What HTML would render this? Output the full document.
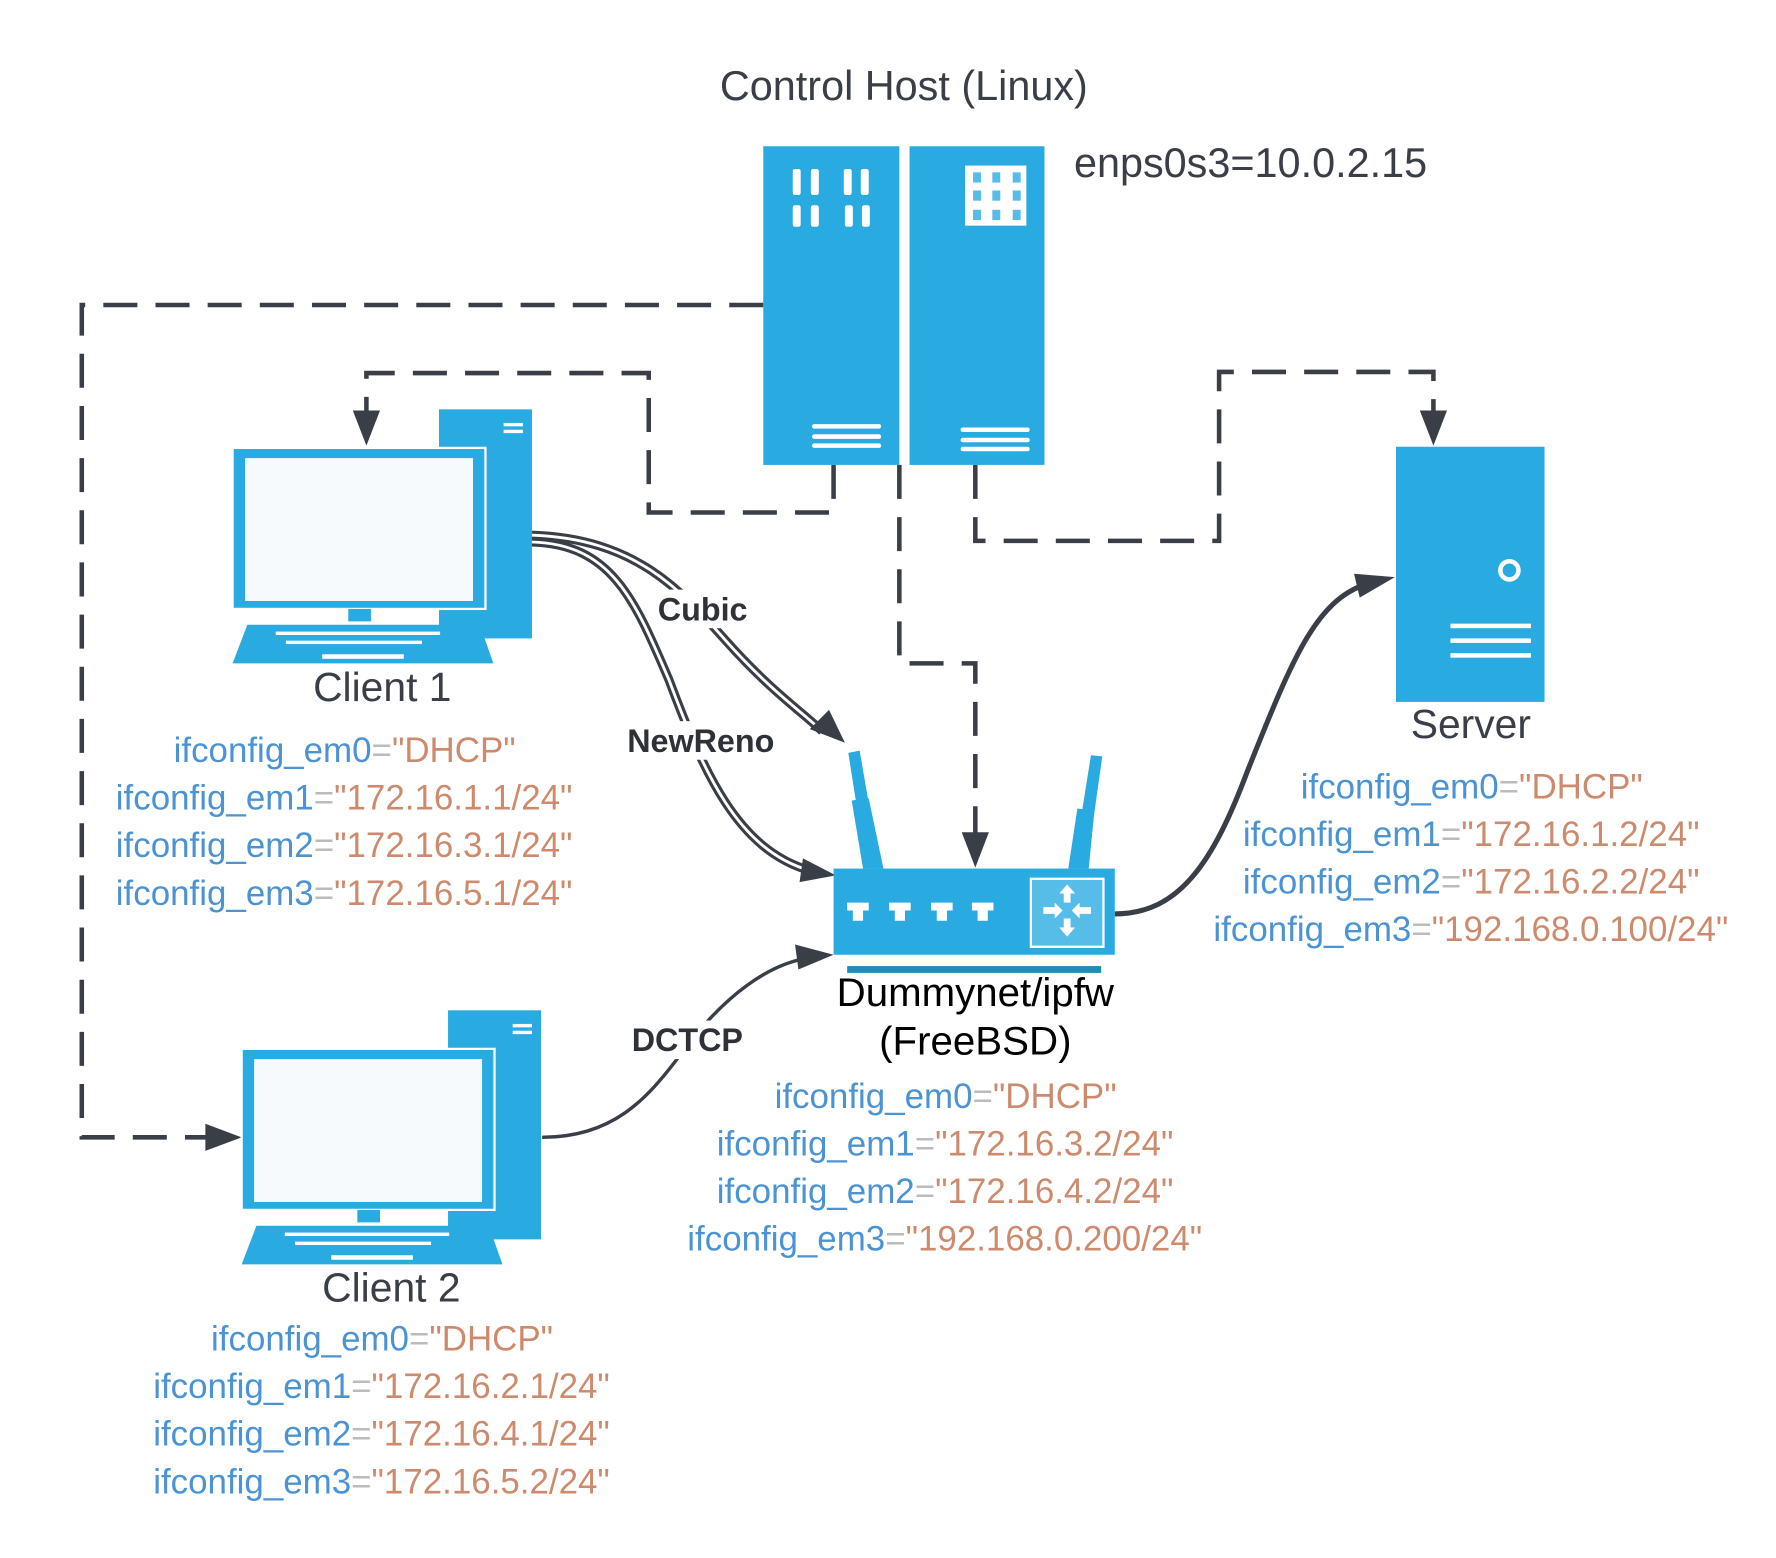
<!DOCTYPE html>
<html><head><meta charset="utf-8"><style>html,body{margin:0;padding:0;background:#fff}svg{display:block}</style></head>
<body>
<svg xmlns="http://www.w3.org/2000/svg" width="1776" height="1558" viewBox="0 0 1566 1374" font-family="Liberation Sans, sans-serif">
<rect width="1566" height="1374" fill="#fff"/>

<!-- dashed connectors -->
<g fill="none" stroke="#3a3f47" stroke-width="4" stroke-dasharray="30,16">
<path d="M673,269 H72 V1003 H190"/>
<path d="M735,410 V452 H572 V329 H323 V370"/>
<path d="M793,410 V585 H860 V742"/>
<path d="M860,410 V477 H1075 V328 H1264 V370"/>
</g>
<g fill="#3a3f47">
<path d="M213,1003 L181,991 L181,1015 z"/>
<path d="M323,393 L311,362 L335,362 z"/>
<path d="M860,765 L848,734 L872,734 z"/>
<path d="M1264,393 L1252,362 L1276,362 z"/>
</g>

<!-- control host -->
<rect x="673" y="129" width="120" height="281" fill="#29aae1"/>
<rect x="802" y="129" width="119" height="281" fill="#29aae1"/>
<g fill="#fff">
<rect x="699" y="149" width="7" height="23" rx="2"/><rect x="715" y="149" width="7" height="23" rx="2"/>
<rect x="744" y="149" width="7" height="23" rx="2"/><rect x="759" y="149" width="7" height="23" rx="2"/>
<rect x="699" y="181" width="7" height="19" rx="2"/><rect x="715" y="181" width="7" height="19" rx="2"/>
<rect x="745" y="181" width="7" height="19" rx="2"/><rect x="760" y="181" width="7" height="19" rx="2"/>
<rect x="716" y="374" width="61" height="4" rx="2"/><rect x="716" y="383" width="61" height="4" rx="2"/><rect x="716" y="391" width="61" height="4" rx="2"/>
<rect x="847" y="377" width="61" height="4" rx="2"/><rect x="847" y="386" width="61" height="4" rx="2"/><rect x="847" y="394" width="61" height="4" rx="2"/>
<rect x="851" y="146" width="54" height="53"/>
</g>
<g fill="#56bde8">
<rect x="858" y="152" width="7" height="9"/><rect x="875" y="152" width="7" height="9"/><rect x="893" y="152" width="7" height="9"/>
<rect x="858" y="168" width="7" height="9"/><rect x="875" y="168" width="7" height="9"/><rect x="893" y="168" width="7" height="9"/>
<rect x="858" y="185" width="7" height="9"/><rect x="875" y="185" width="7" height="9"/><rect x="893" y="185" width="7" height="9"/>
</g>
<text x="797" y="88" font-size="36.5" fill="#3a3f47" text-anchor="middle">Control Host (Linux)</text>
<text x="947" y="156" font-size="36.5" fill="#3a3f47">enps0s3=10.0.2.15</text>

<!-- clients -->
<g id="cl">
<rect x="387" y="361" width="82" height="202" fill="#29aae1"/>
<rect x="444" y="373" width="17" height="3" fill="#fff"/><rect x="444" y="379" width="17" height="3" fill="#fff"/>
<rect x="205" y="395" width="223" height="142" fill="#29aae1" stroke="#fff" stroke-width="2"/>
<rect x="216" y="404" width="201" height="126" fill="#f7fafc"/>
<rect x="307" y="537" width="20" height="11" fill="#29aae1"/>
<path d="M218,551 H423 L435,585 H205 z" fill="#29aae1"/>
<g fill="#fff">
<rect x="243" y="557" width="145" height="3"/><rect x="252" y="565" width="120" height="3"/>
<rect x="284" y="577" width="72" height="4"/>
</g>
</g>
<use href="#cl" transform="translate(8,530)"/>
<text x="337" y="618" font-size="36" fill="#3a3f47" text-anchor="middle">Client 1</text>
<text x="345" y="1148" font-size="36" fill="#3a3f47" text-anchor="middle">Client 2</text>

<!-- server -->
<rect x="1231" y="394" width="131" height="225" fill="#29aae1"/>
<circle cx="1331" cy="503" r="8" fill="none" stroke="#fff" stroke-width="4"/>
<rect x="1279" y="550" width="71" height="4" fill="#fff"/><rect x="1279" y="563" width="71" height="4" fill="#fff"/><rect x="1279" y="576" width="71" height="4" fill="#fff"/>
<text x="1297" y="651" font-size="36" fill="#3a3f47" text-anchor="middle">Server</text>

<!-- solid connectors -->
<g fill="none">
<path d="M469,472 C560,475 600,520 640,565 C680,610 710,630 725,645" stroke="#3a3f47" stroke-width="8"/>
<path d="M469,472 C560,475 600,520 640,565 C680,610 710,630 725,645" stroke="#fff" stroke-width="2.5"/>
<path d="M469,478 C540,480 560,530 590,600 C620,680 650,750 715,768" stroke="#3a3f47" stroke-width="8"/>
<path d="M469,478 C540,480 560,530 590,600 C620,680 650,750 715,768" stroke="#fff" stroke-width="2.5"/>
<path d="M478,1003 C540,1003 570,970 600,930 C640,875 680,850 712,845" stroke="#3a3f47" stroke-width="3"/>
<path d="M983,806 C1040,806 1070,760 1100,680 C1140,580 1160,530 1205,515" stroke="#3a3f47" stroke-width="4.5"/>
</g>
<g fill="#3a3f47">
<path d="M745,655 L714,643 L731,626 z"/>
<path d="M737,772 L705,778 L708,757 z"/>
<path d="M735,842 L704,855 L701,833 z"/>
<path d="M1230,509 L1199,527 L1194,506 z"/>
</g>
<rect x="575" y="520" width="92" height="34" fill="#fff"/>
<rect x="548" y="636" width="142" height="34" fill="#fff"/>
<rect x="552" y="900" width="110" height="34" fill="#fff"/>
<g font-size="28.5" font-weight="bold" fill="#2e3238">
<text x="580" y="547">Cubic</text>
<text x="553" y="663">NewReno</text>
<text x="557" y="927">DCTCP</text>
</g>

<!-- router -->
<path d="M748,664 L758,662 L776,766 L764,766 z" fill="#29aae1"/>
<path d="M962,666 L972,667 L958,766 L946,766 z" fill="#29aae1"/>
<path d="M751,706 L766,704 L779,766 L761,766 z" fill="#29aae1"/>
<path d="M950,713 L965,715 L960,766 L942,766 z" fill="#29aae1"/>
<rect x="735" y="766" width="248" height="76" fill="#29aae1"/>
<rect x="909" y="775" width="64" height="60" fill="#56bde8" stroke="#fff" stroke-width="2"/>
<g fill="#fff">
<path d="M747,796 H766 V803 H761 V812 H752 V803 H747 z"/>
<path d="M784,796 H803 V803 H798 V812 H789 V803 H784 z"/>
<path d="M821,796 H840 V803 H835 V812 H826 V803 H821 z"/>
<path d="M857,796 H876 V803 H871 V812 H862 V803 H857 z"/>
<path d="M941,780 L948,788 H944 V796 H938 V788 H934 z"/>
<path d="M941,826 L948,818 H944 V810 H938 V818 H934 z"/>
<path d="M937,803 L930,796 V800 H920 V806 H930 V810 z"/>
<path d="M945,803 L952,796 V800 H962 V806 H952 V810 z"/>
</g>
<rect x="747" y="852" width="224" height="6" fill="#2489b5"/>
<text x="860" y="887" font-size="35.5" fill="#000" text-anchor="middle">Dummynet/ipfw</text>
<text x="860" y="930" font-size="35.5" fill="#000" text-anchor="middle">(FreeBSD)</text>

<!-- ifconfig lists -->
<g font-size="30.8" fill="#4b93d3">
<text x="153" y="672">ifconfig_em0<tspan fill="#bbb">=</tspan><tspan fill="#cd8a6c">"DHCP"</tspan></text>
<text x="102" y="714">ifconfig_em1<tspan fill="#bbb">=</tspan><tspan fill="#cd8a6c">"172.16.1.1/24"</tspan></text>
<text x="102" y="756">ifconfig_em2<tspan fill="#bbb">=</tspan><tspan fill="#cd8a6c">"172.16.3.1/24"</tspan></text>
<text x="102" y="798">ifconfig_em3<tspan fill="#bbb">=</tspan><tspan fill="#cd8a6c">"172.16.5.1/24"</tspan></text>

<text x="1147" y="704">ifconfig_em0<tspan fill="#bbb">=</tspan><tspan fill="#cd8a6c">"DHCP"</tspan></text>
<text x="1096" y="746">ifconfig_em1<tspan fill="#bbb">=</tspan><tspan fill="#cd8a6c">"172.16.1.2/24"</tspan></text>
<text x="1096" y="788">ifconfig_em2<tspan fill="#bbb">=</tspan><tspan fill="#cd8a6c">"172.16.2.2/24"</tspan></text>
<text x="1070" y="830">ifconfig_em3<tspan fill="#bbb">=</tspan><tspan fill="#cd8a6c">"192.168.0.100/24"</tspan></text>

<text x="683" y="977">ifconfig_em0<tspan fill="#bbb">=</tspan><tspan fill="#cd8a6c">"DHCP"</tspan></text>
<text x="632" y="1019">ifconfig_em1<tspan fill="#bbb">=</tspan><tspan fill="#cd8a6c">"172.16.3.2/24"</tspan></text>
<text x="632" y="1061">ifconfig_em2<tspan fill="#bbb">=</tspan><tspan fill="#cd8a6c">"172.16.4.2/24"</tspan></text>
<text x="606" y="1103">ifconfig_em3<tspan fill="#bbb">=</tspan><tspan fill="#cd8a6c">"192.168.0.200/24"</tspan></text>

<text x="186" y="1191">ifconfig_em0<tspan fill="#bbb">=</tspan><tspan fill="#cd8a6c">"DHCP"</tspan></text>
<text x="135" y="1233">ifconfig_em1<tspan fill="#bbb">=</tspan><tspan fill="#cd8a6c">"172.16.2.1/24"</tspan></text>
<text x="135" y="1275">ifconfig_em2<tspan fill="#bbb">=</tspan><tspan fill="#cd8a6c">"172.16.4.1/24"</tspan></text>
<text x="135" y="1317">ifconfig_em3<tspan fill="#bbb">=</tspan><tspan fill="#cd8a6c">"172.16.5.2/24"</tspan></text>
</g>
</svg>
</body></html>
